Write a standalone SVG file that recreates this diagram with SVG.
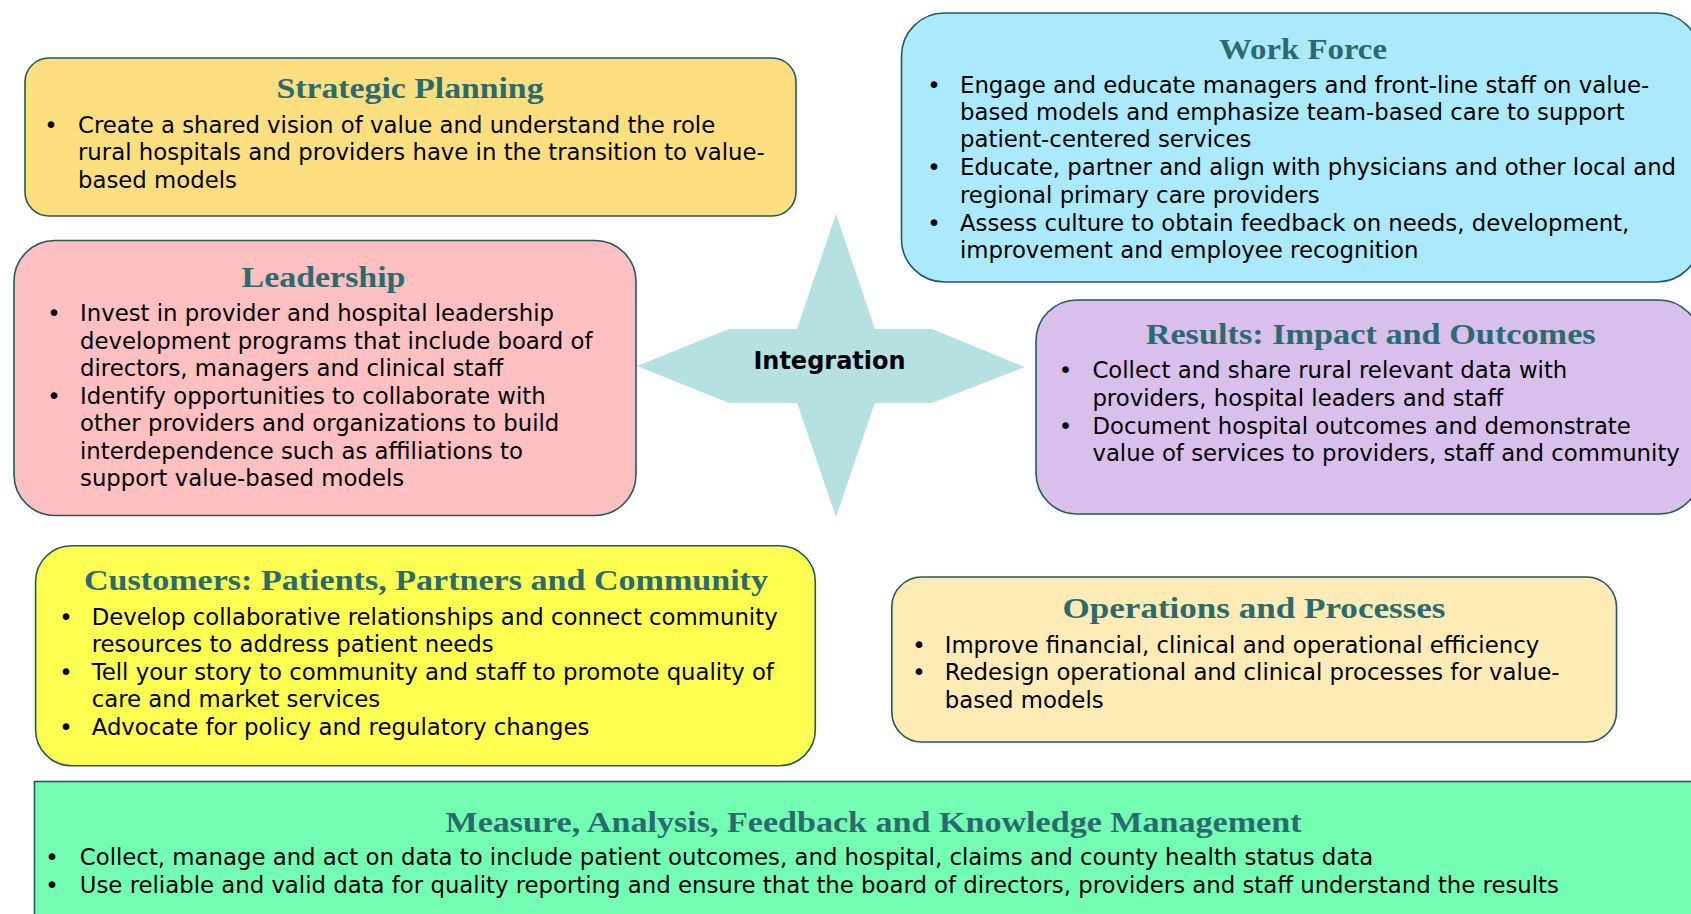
<svg xmlns="http://www.w3.org/2000/svg" width="1691" height="914" viewBox="0 0 1691 914">
<style>
.box{stroke:#25585a;stroke-width:1.6}
.t{font-family:"Liberation Serif",serif;font-weight:bold;font-size:30px;fill:#2b6b6d;text-anchor:middle}
.b{font-family:"DejaVu Sans","Verdana",sans-serif;font-size:22.8px;fill:#000}
.d{font-family:"DejaVu Sans",sans-serif;font-size:22.8px;fill:#000;text-anchor:middle}
.star{fill:#b5e1e3}
</style>
<rect width="1691" height="914" fill="#ffffff"/>
<g id="connectors"></g>

<g id="integration">
<polygon class="star" points="836,214 887.5,366 836,517 784.5,366"/>
<polygon class="star" points="637,366 729,329 932,329 1025,367 932,403 729,403"/>
<text x="829.5" y="368.5" font-family="DejaVu Sans, sans-serif" font-weight="bold" font-size="24" text-anchor="middle" fill="#000">Integration</text>
</g>

<g id="strategic-planning">
<rect class="box" x="25" y="58" width="771" height="158" rx="24" fill="#fedf80"/>
<text class="t" x="410" y="98" textLength="267" lengthAdjust="spacingAndGlyphs">Strategic Planning</text>
<text class="d" x="51" y="133">•</text>
<text class="b" x="78" y="133">Create a shared vision of value and understand the role</text>
<text class="b" x="78" y="160">rural hospitals and providers have in the transition to value-</text>
<text class="b" x="78" y="188">based models</text>
</g>

<g id="work-force">
<rect class="box" x="901.5" y="13" width="798.5" height="269" rx="43" fill="#abe9fc"/>
<text class="t" x="1303" y="58.5" textLength="168" lengthAdjust="spacingAndGlyphs">Work Force</text>
<text class="d" x="934" y="93">•</text>
<text class="b" x="960" y="93">Engage and educate managers and front-line staff on value-</text>
<text class="b" x="960" y="120">based models and emphasize team-based care to support</text>
<text class="b" x="960" y="147">patient-centered services</text>
<text class="d" x="934" y="175">•</text>
<text class="b" x="960" y="175">Educate, partner and align with physicians and other local and</text>
<text class="b" x="960" y="203">regional primary care providers</text>
<text class="d" x="934" y="231">•</text>
<text class="b" x="960" y="231">Assess culture to obtain feedback on needs, development,</text>
<text class="b" x="960" y="258">improvement and employee recognition</text>
</g>

<g id="leadership">
<rect class="box" x="14" y="240.5" width="622" height="275" rx="41" fill="#fec0c0"/>
<text class="t" x="323.5" y="287" textLength="164" lengthAdjust="spacingAndGlyphs">Leadership</text>
<text class="d" x="54" y="321">•</text>
<text class="b" x="80" y="321">Invest in provider and hospital leadership</text>
<text class="b" x="80" y="349">development programs that include board of</text>
<text class="b" x="80" y="376">directors, managers and clinical staff</text>
<text class="d" x="54" y="404">•</text>
<text class="b" x="80" y="404">Identify opportunities to collaborate with</text>
<text class="b" x="80" y="431">other providers and organizations to build</text>
<text class="b" x="80" y="459">interdependence such as affiliations to</text>
<text class="b" x="80" y="486">support value-based models</text>
</g>

<g id="results">
<rect class="box" x="1036" y="300" width="664" height="214" rx="41" fill="#d8bfec"/>
<text class="t" x="1370.7" y="344" textLength="450" lengthAdjust="spacingAndGlyphs">Results: Impact and Outcomes</text>
<text class="d" x="1065.5" y="378">•</text>
<text class="b" x="1092.4" y="378">Collect and share rural relevant data with</text>
<text class="b" x="1092.4" y="406">providers, hospital leaders and staff</text>
<text class="d" x="1065.5" y="434">•</text>
<text class="b" x="1092.4" y="434">Document hospital outcomes and demonstrate</text>
<text class="b" x="1092.4" y="461">value of services to providers, staff and community</text>
</g>

<g id="customers">
<rect class="box" x="35.6" y="545.7" width="779.7" height="220" rx="36" fill="#ffff52"/>
<text class="t" x="426" y="590" textLength="684" lengthAdjust="spacingAndGlyphs">Customers: Patients, Partners and Community</text>
<text class="d" x="66" y="625">•</text>
<text class="b" x="91.7" y="625">Develop collaborative relationships and connect community</text>
<text class="b" x="91.7" y="652">resources to address patient needs</text>
<text class="d" x="66" y="680">•</text>
<text class="b" x="91.7" y="680">Tell your story to community and staff to promote quality of</text>
<text class="b" x="91.7" y="707">care and market services</text>
<text class="d" x="66" y="735">•</text>
<text class="b" x="91.7" y="735">Advocate for policy and regulatory changes</text>
</g>

<g id="operations">
<rect class="box" x="891.8" y="577" width="724.7" height="165" rx="30" fill="#feebb6"/>
<text class="t" x="1254" y="618" textLength="383" lengthAdjust="spacingAndGlyphs">Operations and Processes</text>
<text class="d" x="919" y="653">•</text>
<text class="b" x="944.7" y="653">Improve financial, clinical and operational efficiency</text>
<text class="d" x="919" y="680">•</text>
<text class="b" x="944.7" y="680">Redesign operational and clinical processes for value-</text>
<text class="b" x="944.7" y="708">based models</text>
</g>

<g id="measure">
<rect class="box" x="34.5" y="781.5" width="1700" height="200" fill="#73feb4"/>
<text class="t" x="873.5" y="832" textLength="856" lengthAdjust="spacingAndGlyphs">Measure, Analysis, Feedback and Knowledge Management</text>
<text class="d" x="52" y="865" fill="#666">•</text>
<text class="b" x="79.8" y="865">Collect, manage and act on data to include patient outcomes, and hospital, claims and county health status data</text>
<text class="d" x="52" y="893">•</text>
<text class="b" x="79.8" y="893">Use reliable and valid data for quality reporting and ensure that the board of directors, providers and staff understand the results</text>
</g>
</svg>
